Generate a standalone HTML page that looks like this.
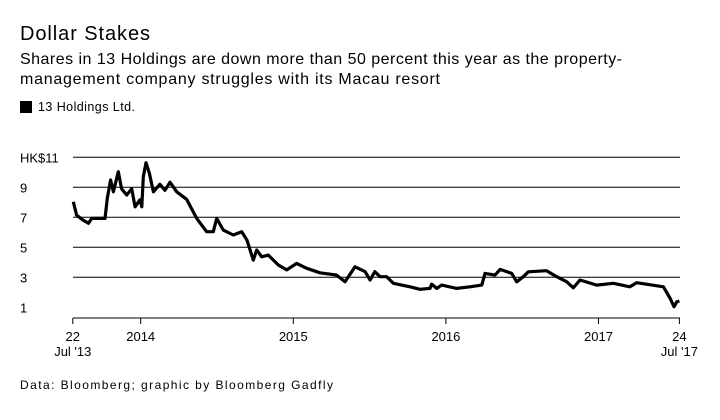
<!DOCTYPE html>
<html><head><meta charset="utf-8"><style>
html,body{margin:0;padding:0;background:#fff;}
body{width:720px;height:415px;overflow:hidden;font-family:"Liberation Sans",sans-serif;}
</style></head><body>
<svg width="720" height="415" xmlns="http://www.w3.org/2000/svg" font-family="Liberation Sans, sans-serif">
<text x="20" y="40" font-size="20" fill="#000" textLength="130" lengthAdjust="spacing">Dollar Stakes</text>
<text x="20" y="64" font-size="16" fill="#000" textLength="602" lengthAdjust="spacing">Shares in 13 Holdings are down more than 50 percent this year as the property-</text>
<text x="20" y="84" font-size="16" fill="#000" textLength="420" lengthAdjust="spacing">management company struggles with its Macau resort</text>
<rect x="20" y="101" width="12" height="12" fill="#000"/>
<text x="38" y="111" font-size="12.5" fill="#000" textLength="97" lengthAdjust="spacing">13 Holdings Ltd.</text>
<g id="grid"></g>
<g id="axis"></g>
<path id="line" fill="none" stroke="#000" stroke-width="3.2" stroke-linejoin="round"/>
<text x="20" y="389" font-size="12" fill="#000" textLength="313" lengthAdjust="spacing">Data: Bloomberg; graphic by Bloomberg Gadfly</text>
</svg>
<script>
const years=[2013.558,2013.58,2013.624,2013.657,2013.679,2013.766,2013.781,2013.803,2013.821,2013.853,2013.875,2013.908,2013.941,2013.963,2013.995,2014.007,2014.017,2014.035,2014.057,2014.083,2014.126,2014.159,2014.192,2014.236,2014.301,2014.367,2014.432,2014.476,2014.498,2014.541,2014.607,2014.662,2014.695,2014.738,2014.760,2014.793,2014.836,2014.902,2014.957,2015.022,2015.088,2015.175,2015.284,2015.339,2015.404,2015.470,2015.503,2015.534,2015.568,2015.612,2015.655,2015.765,2015.830,2015.896,2015.907,2015.940,2015.972,2016.071,2016.158,2016.235,2016.256,2016.322,2016.355,2016.431,2016.464,2016.507,2016.540,2016.660,2016.726,2016.792,2016.835,2016.879,2016.988,2017.097,2017.206,2017.250,2017.425,2017.469,2017.495,2017.513,2017.530];
const prices=[8.04,7.15,6.8,6.6,6.93,6.93,8.27,9.49,8.7,10.04,8.9,8.49,8.9,7.7,8.17,7.7,9.7,10.64,9.93,8.7,9.2,8.8,9.34,8.7,8.2,6.93,6.04,6.04,6.93,6.15,5.82,6.04,5.5,4.15,4.82,4.37,4.48,3.82,3.49,3.93,3.6,3.3,3.15,2.7,3.7,3.38,2.82,3.38,3.04,3.04,2.6,2.37,2.2,2.26,2.55,2.26,2.48,2.26,2.37,2.48,3.26,3.15,3.53,3.26,2.7,3.04,3.37,3.44,3.04,2.7,2.3,2.82,2.48,2.6,2.37,2.64,2.37,1.6,1.04,1.37,1.42];
const yTicks=[1,3,5,7,9,11];
const yTickLabels=["1","3","5","7","9","HK$11"];
const xTicks=[2013.555,2014,2015,2016,2017,2017.53];
const xTickLabels=["22","2014","2015","2016","2017","24"];
const xSubLabels=["Jul '13","","","","","Jul '17"];
const NS="http://www.w3.org/2000/svg";
function xs(t){return 140.7+(t-2014)*152.6;}
function ys(v){return 157.3+(11-v)*15;}
const grid=document.getElementById('grid'),axis=document.getElementById('axis');
yTicks.forEach((v,i)=>{
 if(v>1){const l=document.createElementNS(NS,'line');
 l.setAttribute('x1',73);l.setAttribute('x2',680);l.setAttribute('y1',ys(v));l.setAttribute('y2',ys(v));
 l.setAttribute('stroke','#000');l.setAttribute('stroke-width','1');
 
 
 grid.appendChild(l);}
 const t=document.createElementNS(NS,'text');
 t.setAttribute('x',20);t.setAttribute('y',ys(v)+5);t.setAttribute('font-size','13');
 t.textContent=yTickLabels[i];
 
 
 axis.appendChild(t);
});
const base=document.createElementNS(NS,'line');
base.setAttribute('x1',73);base.setAttribute('x2',680);base.setAttribute('y1',318);base.setAttribute('y2',318);base.setAttribute('stroke','#000');


axis.appendChild(base);
xTicks.forEach((t,i)=>{
 const x=xs(t);
 const l=document.createElementNS(NS,'line');
 l.setAttribute('x1',x);l.setAttribute('x2',x);l.setAttribute('y1',318);l.setAttribute('y2',324);l.setAttribute('stroke','#000');
 
 
 axis.appendChild(l);
 const tx=document.createElementNS(NS,'text');
 tx.setAttribute('x',x);tx.setAttribute('y',341);tx.setAttribute('font-size','13');tx.setAttribute('text-anchor','middle');
 tx.textContent=xTickLabels[i];
 
 
 axis.appendChild(tx);
 if(xSubLabels[i]){const s=document.createElementNS(NS,'text');
 s.setAttribute('x',x);s.setAttribute('y',356);s.setAttribute('font-size','13');s.setAttribute('text-anchor','middle');
 s.textContent=xSubLabels[i];
 
 
 axis.appendChild(s);}
});
document.getElementById('line').setAttribute('d',years.map((t,i)=>(i?'L':'M')+xs(t).toFixed(1)+' '+ys(prices[i]).toFixed(1)).join(' '));
</script>
</body></html>
